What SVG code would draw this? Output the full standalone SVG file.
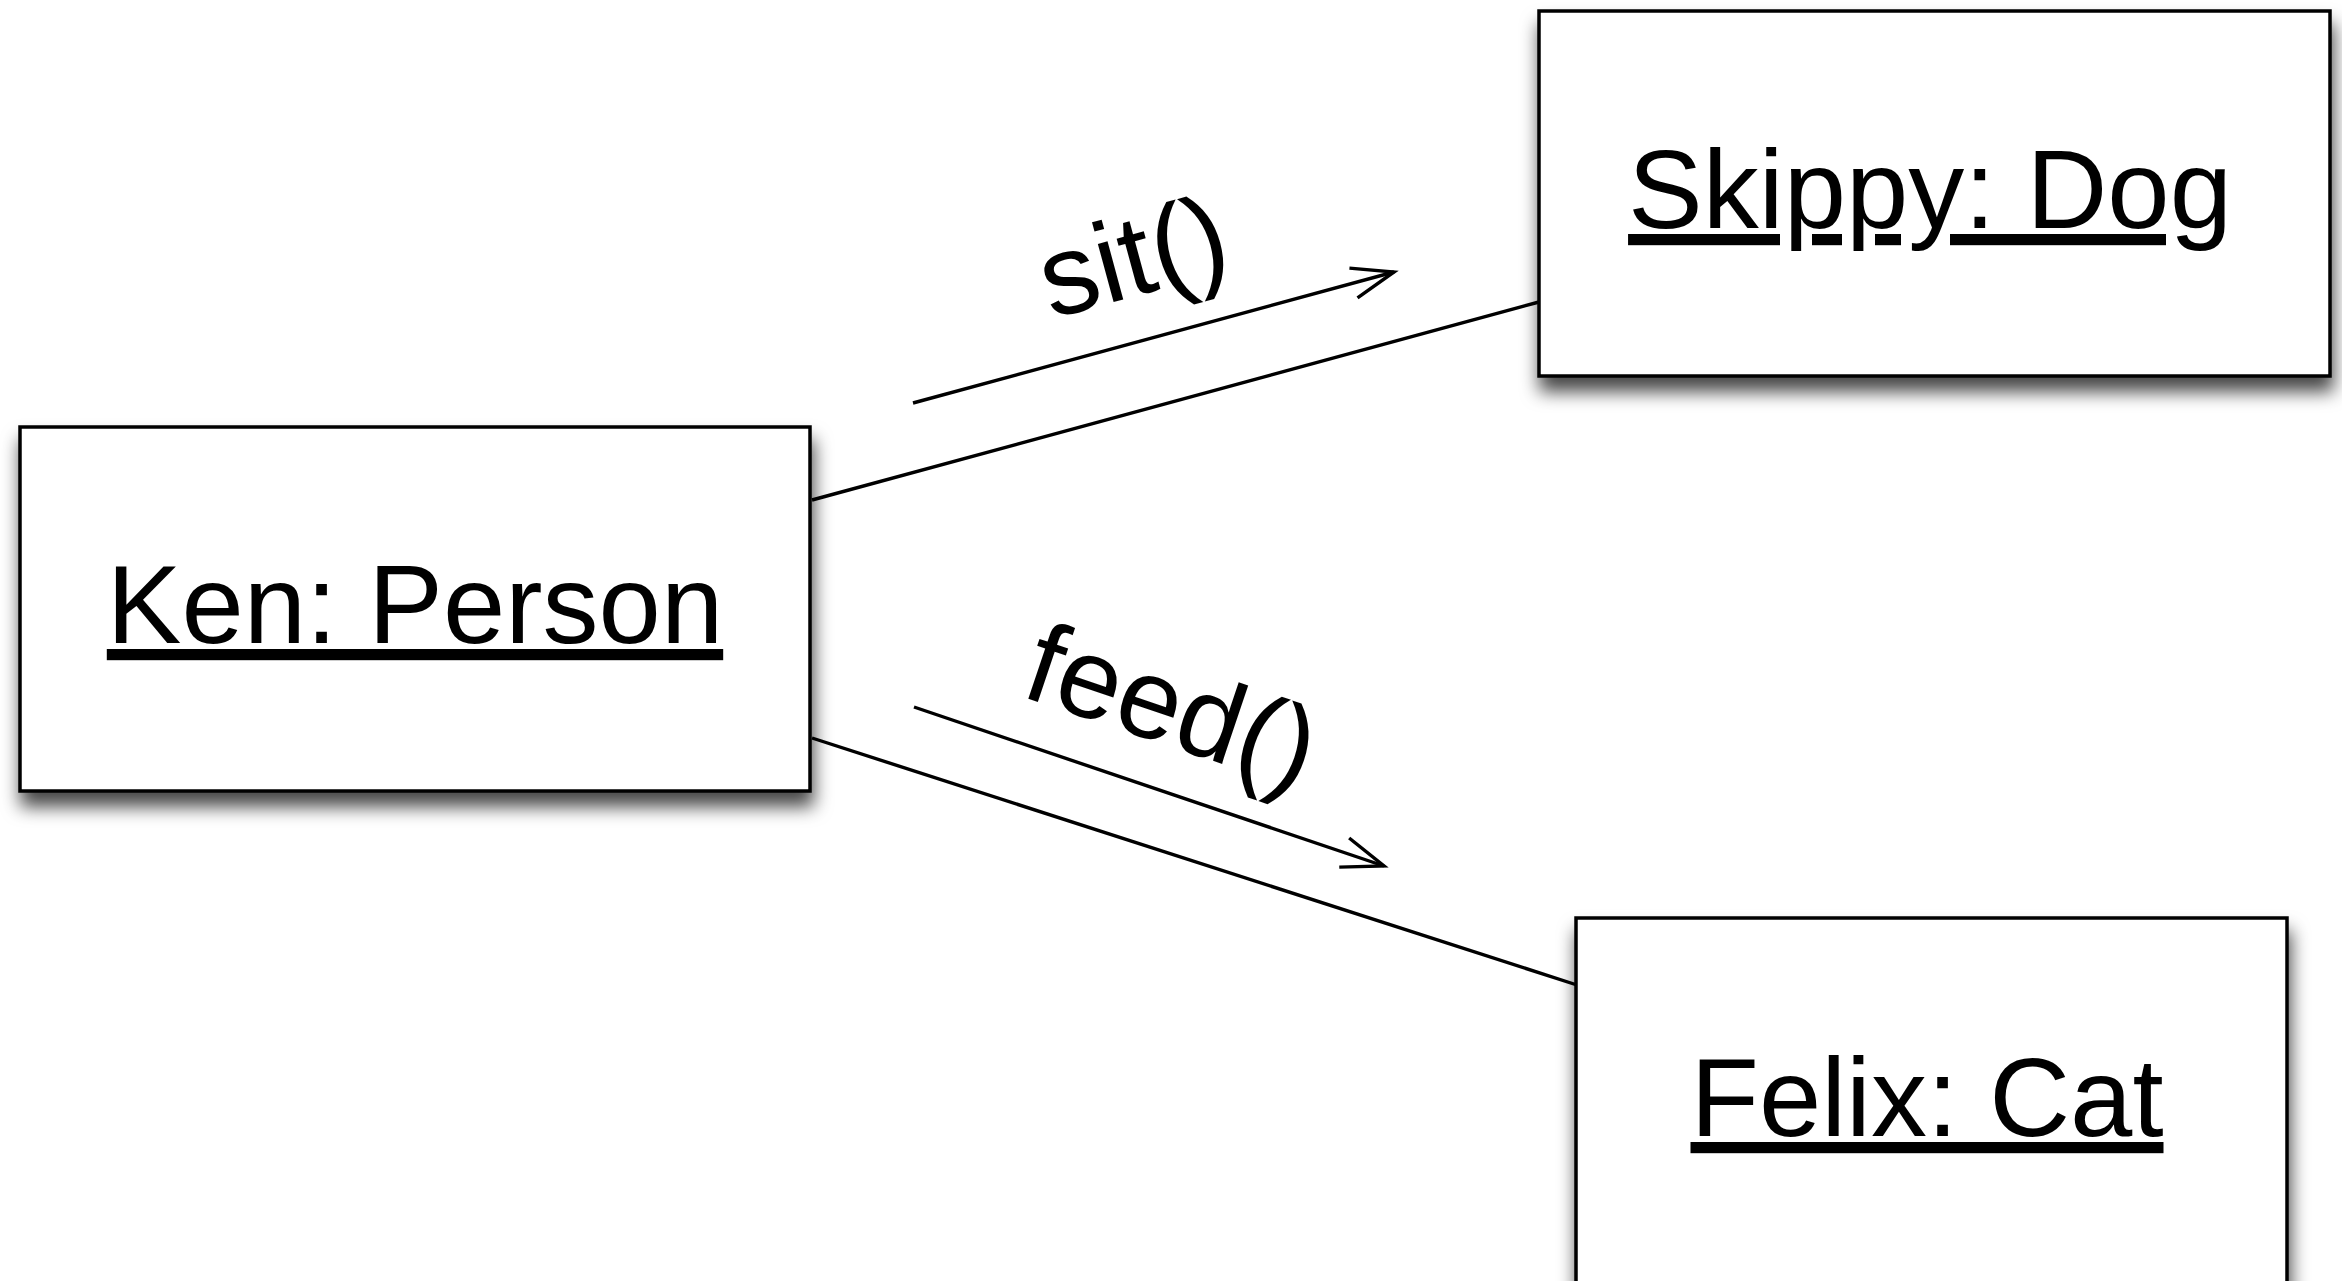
<svg xmlns="http://www.w3.org/2000/svg" width="2342" height="1281" viewBox="0 0 2342 1281">
  <style>
    .box { fill: #ffffff; stroke: #000000; stroke-width: 3.5; filter: url(#shadow); }
    .name { font-family: "Liberation Sans", Arial, sans-serif; font-size: 112px; fill: #000000; text-anchor: middle; text-decoration: underline; }
    .msg { font-family: "Liberation Sans", Arial, sans-serif; font-size: 114px; fill: #000000; text-anchor: middle; }
    .link { stroke: #000000; stroke-width: 3.4; fill: none; }
    .call { stroke: #000000; stroke-width: 3.4; fill: none; marker-end: url(#open-arrow); }
  </style>
  <defs>
    <filter id="shadow" x="-10%" y="-15%" width="125%" height="145%">
      <feDropShadow dx="2" dy="14" stdDeviation="9" flood-color="#000000" flood-opacity="0.72"/>
    </filter>
    <marker id="open-arrow" markerUnits="userSpaceOnUse" markerWidth="60" markerHeight="40" refX="0" refY="0" viewBox="-50 -20 60 40" orient="auto" overflow="visible">
      <path d="M -42 -15.4 L 0 0 L -42 15.4" fill="none" stroke="#000000" stroke-width="3.4"/>
    </marker>
  </defs>

  <rect width="2342" height="1281" fill="#ffffff"/>

  <!-- associations and message arrows -->
  <g id="connectors">
    <line class="link" x1="812" y1="500" x2="1539" y2="302"/>
    <line class="link" x1="812" y1="738" x2="1577" y2="985"/>
    <line class="call" x1="913" y1="403" x2="1394" y2="272"/>
    <text class="msg" x="1143" y="294" transform="rotate(-15.2 1143 294)">sit()</text>
    <line class="call" x1="914" y1="707" x2="1384" y2="866"/>
    <text class="msg" x="1160" y="743" transform="rotate(18.6 1160 743)">feed()</text>
  </g>

  <!-- object instances -->
  <g id="ken">
    <rect class="box" x="20" y="427" width="790" height="364"/>
    <text class="name" x="415" y="643">Ken: Person</text>
  </g>
  <g id="skippy">
    <rect class="box" x="1539" y="11" width="791" height="365"/>
    <text class="name" x="1930" y="228">Skippy: Dog</text>
  </g>
  <g id="felix">
    <rect class="box" x="1576" y="918" width="711" height="420"/>
    <text class="name" x="1927" y="1136">Felix: Cat</text>
  </g>
</svg>
